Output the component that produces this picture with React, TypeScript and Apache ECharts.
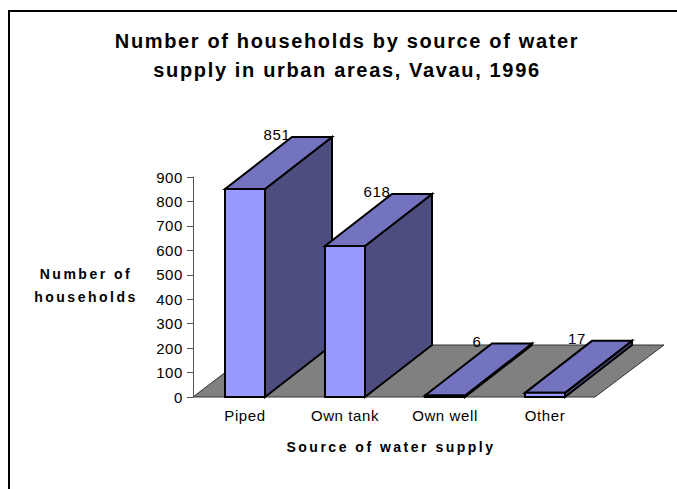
import React, { useEffect, useRef } from "react";
import * as echarts from "echarts";

const categories = ["Piped", "Own tank", "Own well", "Other"];
const households = [851, 618, 6, 17];
const yTicks = { min: 0, max: 900, interval: 100 };
const titleLines = "Number of households by source of water\nsupply in urban areas, Vavau, 1996";
const yAxisName = "Number of\nhouseholds";
const xAxisName = "Source of water supply";

const FONT = "'Liberation Sans', Arial, sans-serif";
const DEPTH_X = 67;
const DEPTH_Y = 52;

export default function App() {
  const ref = useRef<HTMLDivElement>(null);
  useEffect(() => {
    const chart = echarts.init(ref.current!, undefined, { renderer: "svg" });
    chart.setOption({
      animation: false,
      backgroundColor: "#fff",
      title: {
        text: titleLines,
        left: 342,
        top: 21,
        textAlign: "center",
        textStyle: { fontFamily: FONT, fontSize: 20, fontWeight: "bold", color: "#000", lineHeight: 29 },
      },
      grid: { left: 195, right: 82, top: 177, bottom: 92 },
      graphic: [
        {
          type: "rect",
          shape: { x: 9, y: 11, width: 700, height: 500 },
          style: { fill: "none", stroke: "#000", lineWidth: 2 },
          silent: true,
          z: 100,
        },
        {
          type: "text",
          x: 86,
          y: 285.5,
          style: {
            text: yAxisName,
            fontFamily: FONT,
            fontSize: 14,
            fontWeight: "bold",
            lineHeight: 23,
            align: "center",
            verticalAlign: "middle",
            fill: "#000",
          },
        },
        {
          type: "text",
          x: 391,
          y: 447,
          style: {
            text: xAxisName,
            fontFamily: FONT,
            fontSize: 14,
            fontWeight: "bold",
            align: "center",
            verticalAlign: "middle",
            fill: "#000",
          },
        },
      ],
      xAxis: {
        type: "category",
        data: categories,
        axisLine: { show: false },
        axisTick: { show: false },
        axisLabel: { fontFamily: FONT, fontSize: 15, color: "#000", margin: 11 },
      },
      yAxis: {
        type: "value",
        min: yTicks.min,
        max: yTicks.max,
        interval: yTicks.interval,
        offset: 2,
        splitLine: { show: false },
        axisLine: { show: true, lineStyle: { color: "#555", width: 1 } },
        axisTick: { show: true, length: 6, lineStyle: { color: "#555", width: 1 } },
        axisLabel: { fontFamily: FONT, fontSize: 15, color: "#000", margin: 10 },
      },
      series: [
        {
          type: "custom",
          name: "Floor",
          silent: true,
          z: 1,
          data: [0],
          encode: { x: [], y: [] },
          renderItem: (params: any, api: any) => {
            const base = api.coord([0, 0]);
            const band = api.size([1, 0])[0];
            const l = base[0] - band / 2 - 2;
            const r = l + 2 + band * 4;
            const y = base[1];
            return {
              type: "polygon",
              shape: {
                points: [
                  [l, y],
                  [r, y],
                  [r + DEPTH_X + 2, y - DEPTH_Y],
                  [l + DEPTH_X + 1, y - DEPTH_Y],
                ],
              },
              style: { fill: "#808080", stroke: "#333", lineWidth: 1 },
            };
          },
        },
        {
          type: "custom",
          name: "Households",
          z: 2,
          data: households.map((v, i) => [i, v]),
          encode: { x: 0, y: 1 },
          renderItem: (params: any, api: any) => {
            const pos = api.coord([api.value(0), api.value(1)]);
            const base = api.coord([api.value(0), 0]);
            const w = api.size([1, 0])[0] * 0.4;
            const x0 = pos[0] - w / 2;
            const x1 = pos[0] + w / 2;
            const yt = pos[1];
            const yb = base[1];
            const line = { stroke: "#000", lineWidth: 2, lineJoin: "miter" as const };
            return {
              type: "group",
              children: [
                {
                  type: "polygon",
                  shape: { points: [[x1, yt], [x1 + DEPTH_X, yt - DEPTH_Y], [x1 + DEPTH_X, yb - DEPTH_Y], [x1, yb]] },
                  style: { fill: "#4D4D80", ...line },
                },
                {
                  type: "polygon",
                  shape: { points: [[x0, yt], [x0 + DEPTH_X, yt - DEPTH_Y], [x1 + DEPTH_X, yt - DEPTH_Y], [x1, yt]] },
                  style: { fill: "#7373BF", ...line },
                },
                {
                  type: "rect",
                  shape: { x: x0, y: yt, width: w, height: yb - yt },
                  style: { fill: "#9999FF", ...line },
                },
                {
                  type: "text",
                  x: x0 + DEPTH_X - 15,
                  y: yt - DEPTH_Y - 2,
                  style: {
                    text: String(api.value(1)),
                    fontFamily: FONT,
                    fontSize: 15,
                    fill: "#000",
                    align: "center",
                    verticalAlign: "middle",
                  },
                },
              ],
            };
          },
        },
      ],
    });
    // The reference's text is loosely tracked; ECharts has no letter-spacing option.
    ref.current!.querySelectorAll("text").forEach((t) => {
      const s = t.getAttribute("style") || "";
      const bold = s.includes("bold");
      const spacing = bold ? (s.includes("20px") ? 1.65 : 2.5) : 0.6;
      (t as SVGTextElement).style.letterSpacing = spacing + "px";
    });
    return () => chart.dispose();
  }, []);
  return <div ref={ref} style={{ position: "fixed", left: 0, top: 0, width: 677, height: 489 }} />;
}
